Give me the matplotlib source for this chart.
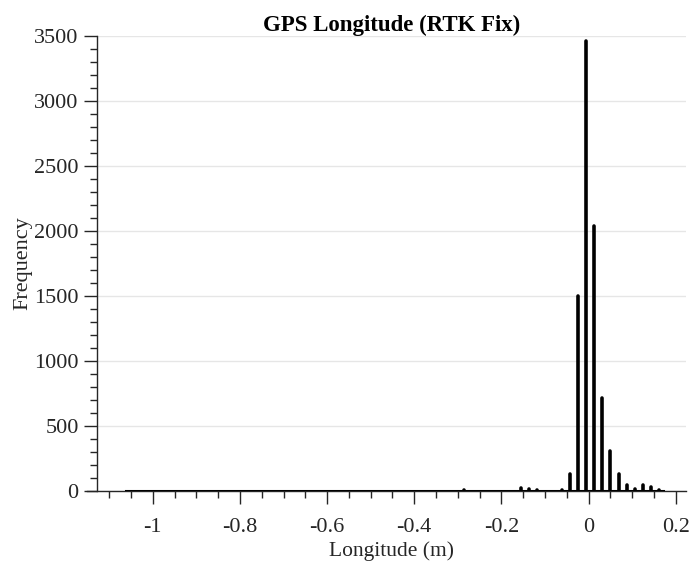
import matplotlib
matplotlib.use("Agg")
import matplotlib.pyplot as plt
import numpy as np

# histogram bins (centre of first bin, bin width) and counts
first_centre = -1.053
bin_width = 0.0187
counts = [0] * 41 + [5, 0, 0, 0, 0, 0, 0, 18, 15, 3, 0, 0, 8,
                     130, 1500, 3460, 2040, 716, 305, 130, 45, 12, 45, 30, 5]

centres = first_centre + bin_width * np.arange(len(counts))
edges_lo = centres[0] - bin_width / 2
edges_hi = centres[-1] + bin_width / 2

x_ticks = [-1, -0.8, -0.6, -0.4, -0.2, 0, 0.2]
x_labels = ["-1", "-0.8", "-0.6", "-0.4", "-0.2", "0", "0.2"]
y_ticks = [0, 500, 1000, 1500, 2000, 2500, 3000, 3500]

plt.rcParams['font.family'] = ['Liberation Serif', 'DejaVu Serif']
txt = '#262626'

fig = plt.figure(figsize=(6.91, 5.69), dpi=100)
ax = fig.add_axes([0.141, 0.1376, 0.852, 0.799])

ax.grid(axis='y', color='#e6e6e6', linewidth=1)
ax.set_axisbelow(True)

# zero-count bins still show as a thick line along the axis
ax.plot([edges_lo, edges_hi], [0, 0], color='black', linewidth=2.2, zorder=3)
lc = ax.vlines(centres, 0, counts, color='black', linewidth=2.6, zorder=3)
lc.set_capstyle('round')

ax.set_xlim(-1.127, 0.224)
ax.set_ylim(0, 3500)

ax.set_xticks(x_ticks)
ax.set_xticklabels(x_labels)
ax.set_xticks(np.arange(-1.1, 0.21, 0.05), minor=True)
ax.set_yticks(y_ticks)
ax.set_yticks(np.arange(0, 3501, 100), minor=True)

for s in ['top', 'right']:
    ax.spines[s].set_visible(False)
for s in ['left', 'bottom']:
    ax.spines[s].set_color(txt)
    ax.spines[s].set_linewidth(1.0)
ax.spines['bottom'].set_bounds(-1.15, 0.224)

ax.tick_params(which='major', direction='out', length=9.5, width=1, color=txt,
               labelcolor=txt, labelsize=16)
ax.tick_params(which='minor', direction='out', length=5, width=1, color=txt)
ax.tick_params(axis='x', which='major', pad=10)
ax.tick_params(axis='y', which='major', pad=4)

ax.set_title('GPS Longitude (RTK Fix)', fontsize=16.5, fontweight='bold', color='black', pad=3)
ax.set_xlabel('Longitude (m)', fontsize=15.5, color=txt, labelpad=3)
ax.set_ylabel('Frequency', fontsize=16, color=txt, labelpad=1)

fig.savefig('out.png', dpi=100)
